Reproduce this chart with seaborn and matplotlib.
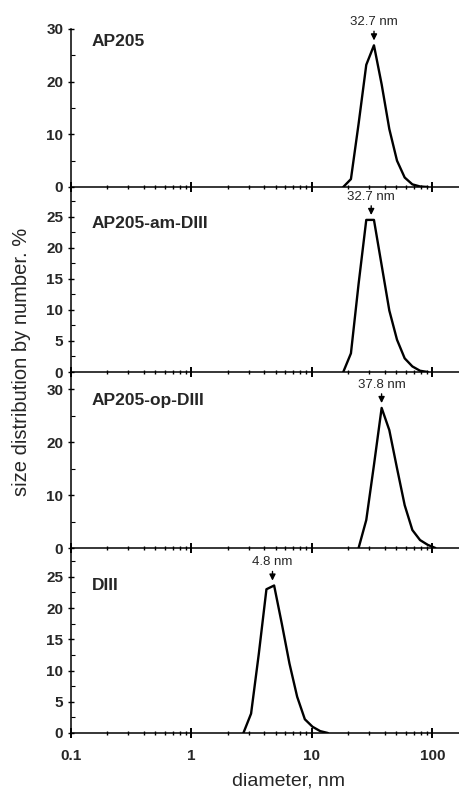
import numpy as np
import pandas as pd
import matplotlib
matplotlib.use("Agg")
import matplotlib.pyplot as plt
from matplotlib.ticker import LogLocator, MultipleLocator, NullFormatter, FixedLocator, FixedFormatter
import seaborn as sns

# ---------------- data ----------------
sample_names = ["AP205", "AP205-am-DIII", "AP205-op-DIII", "DIII"]
peak_labels = ["32.7 nm", "32.7 nm", "37.8 nm", "4.8 nm"]
peak_positions = [32.7, 31.0, 37.8, 4.7]

d_ap205 = [18.17, 21.04, 24.36, 28.21, 32.67, 37.84, 43.82, 50.75, 58.77, 68.06, 78.82, 91.28]
v_ap205 = [0.0, 1.5, 12.0, 23.2, 26.9, 19.5, 11.0, 5.0, 1.8, 0.5, 0.1, 0.0]

d_am = [18.17, 21.04, 24.36, 28.21, 32.67, 37.84, 43.82, 50.75, 58.77, 68.06, 78.82, 91.28]
v_am = [0.0, 3.0, 14.2, 24.5, 24.5, 17.2, 9.9, 5.2, 2.2, 0.9, 0.2, 0.0]

d_op = [24.36, 28.21, 32.67, 37.84, 43.82, 50.75, 58.77, 68.06, 78.82, 91.28, 105.7]
v_op = [0.0, 5.3, 15.7, 26.5, 22.3, 15.1, 8.1, 3.4, 1.5, 0.6, 0.0]

d_d3 = [2.696, 3.122, 3.615, 4.187, 4.849, 5.615, 6.503, 7.531, 8.721, 10.1, 11.7, 13.54]
v_d3 = [0.0, 3.1, 12.6, 23.0, 23.6, 17.5, 11.1, 5.8, 2.2, 1.0, 0.3, 0.0]

x_tick_values = [0.1, 1, 10, 100]
x_tick_labels = ["0.1", "1", "10", "100"]

series = [(d_ap205, v_ap205), (d_am, v_am), (d_op, v_op), (d_d3, v_d3)]

# ---------------- style ----------------
sns.set_theme(style="ticks")
plt.rcParams["font.family"] = ["Liberation Sans", "DejaVu Sans"]

W, H = 460, 792
fig = plt.figure(figsize=(W / 100, H / 100), dpi=100)

panels = [
    dict(top=29, bot=187, ymax=30.0, major=10, minor=5, lab_y=0.892),
    dict(top=187, bot=372, ymax=29.8, major=5, minor=2.5, lab_y=0.778),
    dict(top=372, bot=548, ymax=33.3, major=10, minor=5, lab_y=0.8125),
    dict(top=548, bot=733, ymax=29.6, major=5, minor=2.5, lab_y=0.773),
]

left_px = 71
ax_w = (W - left_px) / W
xmax = 10 ** ((W - left_px) / 120.5 - 1)

for i, (p, (dx, vy)) in enumerate(zip(panels, series)):
    ax = fig.add_axes([left_px / W, 1 - p["bot"] / H, ax_w, (p["bot"] - p["top"]) / H])
    df = pd.DataFrame({"d": dx, "v": vy})
    sns.lineplot(data=df, x="d", y="v", ax=ax, color="black", lw=1.7, sort=False)
    ax.set_xscale("log")
    ax.set_xlim(0.1, xmax)
    ax.set_xlabel("")
    ax.set_ylabel("")
    for s in ["top", "right"]:
        ax.spines[s].set_visible(False)
    for s in ["left", "bottom"]:
        ax.spines[s].set_linewidth(1.1)
        ax.spines[s].set_color("black")

    ax.xaxis.set_major_locator(FixedLocator(x_tick_values))
    ax.xaxis.set_minor_locator(LogLocator(base=10, subs=np.arange(2, 10)))
    ax.xaxis.set_minor_formatter(NullFormatter())
    if i == len(panels) - 1:
        ax.xaxis.set_major_formatter(FixedFormatter(x_tick_labels))
    else:
        ax.xaxis.set_major_formatter(NullFormatter())
    ax.tick_params(axis="x", which="major", direction="inout", length=7, width=1.4,
                   color="black", labelsize=11, pad=8)
    ax.tick_params(axis="x", which="minor", direction="inout", length=3.5, width=1.0, color="black")

    ax.yaxis.set_major_locator(MultipleLocator(p["major"]))
    ax.yaxis.set_minor_locator(MultipleLocator(p["minor"]))
    ax.tick_params(axis="y", which="major", direction="inout", length=5, width=1.0,
                   color="black", labelsize=11, pad=3)
    ax.tick_params(axis="y", which="minor", direction="in", length=3, width=0.8, color="black")
    ax.set_yticks([t for t in ax.get_yticks() if -1e-9 <= t <= p["ymax"] + 1e-9])
    ax.set_ylim(0, p["ymax"])
    for lab in ax.get_xticklabels() + ax.get_yticklabels():
        lab.set_fontweight("bold")
    ax.patch.set_alpha(0)

    ax.text(0.054, p["lab_y"], sample_names[i], transform=ax.transAxes,
            fontsize=12.5, fontweight="bold", ha="left", va="baseline")

    px = peak_positions[i]
    py = max(vy)
    ax.annotate(peak_labels[i], xy=(px, py), xytext=(0, 12.5), textcoords="offset points",
                ha="center", va="bottom", fontsize=9.5, annotation_clip=False,
                arrowprops=dict(arrowstyle="-|>", color="black", lw=1.0,
                                shrinkA=0, shrinkB=3.5, mutation_scale=9))

fig.text(22 / W, 1 - 362 / H, "size distribution by number. %", rotation=90,
         ha="center", va="center", fontsize=14.5)
fig.text(288 / W, 1 - 781 / H, "diameter, nm", ha="center", va="center", fontsize=14)

fig.savefig("out.png", dpi=100)
